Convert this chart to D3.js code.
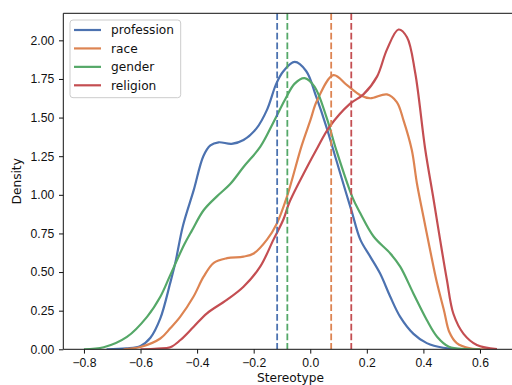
<!DOCTYPE html>
<html>
<head>
<meta charset="utf-8">
<script src="https://cdn.jsdelivr.net/npm/d3@7"></script>
<style>
  body { margin: 0; background: #fff; }
  svg { display: block; font-family: "DejaVu Sans", sans-serif; }
</style>
</head>
<body>
<div id="chart"></div>
<script>
// series names + colours (seaborn "deep")
const groups = ["profession", "race", "gender", "religion"]
const colors = ["#4c72b0", "#dd8452", "#55a868", "#c44e52"]

// KDE curves: [stereotype, density]
const profession = [
  [-0.72, 0], [-0.65, 0.006], [-0.6, 0.022], [-0.565, 0.075], [-0.53, 0.2], [-0.495, 0.43],
  [-0.477, 0.56], [-0.45, 0.8], [-0.412, 1.03], [-0.378, 1.25], [-0.353, 1.32], [-0.324, 1.34],
  [-0.278, 1.33], [-0.236, 1.355], [-0.19, 1.43], [-0.153, 1.55], [-0.12, 1.72], [-0.095, 1.8],
  [-0.055, 1.86], [-0.014, 1.8], [0.021, 1.635], [0.057, 1.44], [0.092, 1.225], [0.127, 1.01],
  [0.147, 0.89], [0.177, 0.71], [0.212, 0.6], [0.247, 0.49], [0.283, 0.34], [0.318, 0.21],
  [0.365, 0.1], [0.412, 0.04], [0.47, 0.01], [0.56, 0]
]
const race = [
  [-0.66, 0], [-0.6, 0.015], [-0.53, 0.07], [-0.495, 0.136], [-0.46, 0.21], [-0.413, 0.34],
  [-0.377, 0.47], [-0.341, 0.56], [-0.294, 0.59], [-0.236, 0.6], [-0.2, 0.62], [-0.153, 0.71],
  [-0.118, 0.815], [-0.082, 0.99], [-0.03, 1.32], [0.0, 1.48], [0.024, 1.61], [0.082, 1.775],
  [0.13, 1.71], [0.177, 1.645], [0.212, 1.625], [0.271, 1.65], [0.306, 1.6], [0.33, 1.48],
  [0.359, 1.29], [0.377, 1.075], [0.4, 0.86], [0.424, 0.64], [0.448, 0.43], [0.473, 0.25],
  [0.492, 0.11], [0.518, 0.04], [0.565, 0.006], [0.636, 0]
]
const gender = [
  [-0.8, 0], [-0.73, 0.013], [-0.648, 0.08], [-0.577, 0.21], [-0.53, 0.34], [-0.495, 0.48],
  [-0.445, 0.68], [-0.418, 0.77], [-0.377, 0.9], [-0.33, 0.99], [-0.283, 1.07], [-0.236, 1.18],
  [-0.177, 1.31], [-0.13, 1.47], [-0.088, 1.62], [-0.055, 1.72], [-0.02, 1.755], [0.015, 1.7],
  [0.057, 1.505], [0.092, 1.29], [0.15, 0.98], [0.177, 0.88], [0.224, 0.73], [0.283, 0.62],
  [0.318, 0.535], [0.365, 0.36], [0.412, 0.19], [0.449, 0.08], [0.49, 0.017], [0.55, 0.002], [0.6, 0]
]
const religion = [
  [-0.6, 0], [-0.54, 0.005], [-0.495, 0.013], [-0.459, 0.06], [-0.412, 0.146], [-0.365, 0.233],
  [-0.295, 0.32], [-0.236, 0.405], [-0.177, 0.535], [-0.13, 0.71], [-0.095, 0.84], [-0.074, 0.95],
  [-0.014, 1.17], [0.024, 1.3], [0.068, 1.44], [0.141, 1.59], [0.188, 1.65], [0.236, 1.765],
  [0.271, 1.94], [0.312, 2.07], [0.342, 2.02], [0.371, 1.79], [0.406, 1.3], [0.436, 0.97],
  [0.459, 0.71], [0.483, 0.45], [0.506, 0.23], [0.542, 0.1], [0.589, 0.028], [0.66, 0.002]
]
// group means (dashed lines)
const means = [-0.117, 0.074, -0.081, 0.145]

const xTicks = [-0.8, -0.6, -0.4, -0.2, 0.0, 0.2, 0.4, 0.6]
const yTicks = [0, 0.25, 0.5, 0.75, 1.0, 1.25, 1.5, 1.75, 2.0]

const width = 512
const height = 385
const marginLeft = 63.3
const marginTop = 13.3
const plotBottom = 349.3
const plotRight = 517.6   // right spine falls outside the picture
const tickLen = 4.3
const fontSize = 12.2
const textColor = "#111"

const series = [profession, race, gender, religion]

const xScale = d3.scaleLinear([-0.873, 0.733], [marginLeft, plotRight])
const yScale = d3.scaleLinear([0, 2.175], [plotBottom, marginTop])

const svg = d3.select("#chart")
  .append("svg")
  .attr("width", width)
  .attr("height", height)
  .attr("viewBox", [0, 0, width, height])

svg.append("defs").append("clipPath")
  .attr("id", "plot")
  .append("rect")
  .attr("x", marginLeft).attr("y", marginTop)
  .attr("width", plotRight - marginLeft).attr("height", plotBottom - marginTop)

const fmtX = d => d3.format(".1f")(d).replace("-", "\u2212")

// x axis
svg.append("g")
  .attr("transform", `translate(0,${plotBottom})`)
  .call(d3.axisBottom(xScale).tickValues(xTicks).tickFormat(fmtX).tickSize(tickLen).tickPadding(4.5))
  .call(g => g.select(".domain").remove())
  .call(g => g.selectAll("line").attr("stroke", textColor).attr("stroke-width", 1))
  .call(g => g.selectAll("text").attr("fill", textColor).attr("font-size", fontSize))

// y axis
svg.append("g")
  .attr("transform", `translate(${marginLeft},0)`)
  .call(d3.axisLeft(yScale).tickValues(yTicks).tickFormat(d3.format(".2f")).tickSize(tickLen).tickPadding(4.7))
  .call(g => g.select(".domain").remove())
  .call(g => g.selectAll("line").attr("stroke", textColor).attr("stroke-width", 1))
  .call(g => g.selectAll("text").attr("fill", textColor).attr("font-size", fontSize))

// curves
const line = d3.line()
  .curve(d3.curveCatmullRom.alpha(0.5))
  .x(d => xScale(d[0]))
  .y(d => yScale(d[1]))

const plot = svg.append("g").attr("clip-path", "url(#plot)")

plot.selectAll("path.kde")
  .data(series)
  .join("path")
  .attr("class", "kde")
  .attr("fill", "none")
  .attr("stroke", (d, i) => colors[i])
  .attr("stroke-width", 2.2)
  .attr("stroke-linejoin", "round")
  .attr("d", line)

// mean lines
plot.selectAll("line.mean")
  .data(means)
  .join("line")
  .attr("class", "mean")
  .attr("x1", d => xScale(d)).attr("x2", d => xScale(d))
  .attr("y1", marginTop).attr("y2", plotBottom)
  .attr("stroke", (d, i) => colors[i])
  .attr("stroke-width", 1.8)
  .attr("stroke-dasharray", "6.8,2.9")

// spines: left, bottom, top
svg.append("path")
  .attr("fill", "none")
  .attr("stroke", textColor)
  .attr("stroke-width", 1)
  .attr("d", `M${plotRight},${marginTop}H${marginLeft}V${plotBottom}H${plotRight}`)

// axis labels (nudged up a little so the descenders stay inside the picture)
svg.append("text")
  .attr("x", (marginLeft + plotRight) / 2)
  .attr("y", 381.5)
  .attr("text-anchor", "middle")
  .attr("fill", textColor)
  .attr("font-size", fontSize)
  .text("Stereotype")

svg.append("text")
  .attr("transform", `translate(21,${(marginTop + plotBottom) / 2}) rotate(-90)`)
  .attr("text-anchor", "middle")
  .attr("fill", textColor)
  .attr("font-size", fontSize)
  .text("Density")

// legend
const legend = svg.append("g")
legend.append("rect")
  .attr("x", 70).attr("y", 20)
  .attr("width", 110.7).attr("height", 77.7)
  .attr("rx", 3)
  .attr("fill", "#fff").attr("fill-opacity", 0.8)
  .attr("stroke", "#ccc").attr("stroke-width", 1)

const rowY = d3.scaleLinear([0, 3], [30, 85.3])
const items = legend.selectAll("g.item")
  .data(groups)
  .join("g")
  .attr("class", "item")
  .attr("transform", (d, i) => `translate(0,${rowY(i)})`)
items.append("line")
  .attr("x1", 74).attr("x2", 101)
  .attr("stroke", (d, i) => colors[i])
  .attr("stroke-width", 2.2)
items.append("text")
  .attr("x", 111)
  .attr("y", 4.4)
  .attr("fill", textColor)
  .attr("font-size", fontSize)
  .text(d => d)
</script>
</body>
</html>
